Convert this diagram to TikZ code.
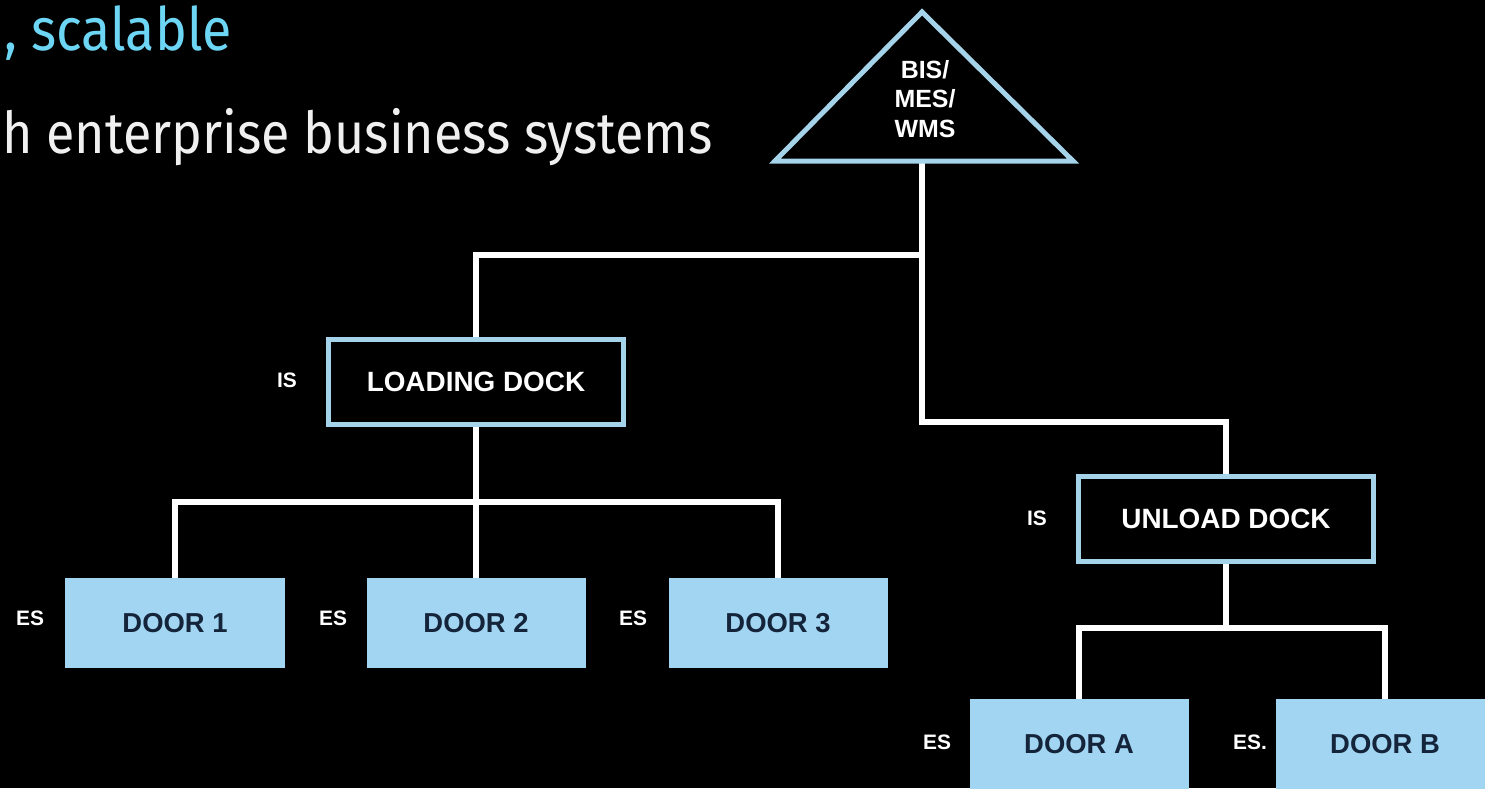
\documentclass[tikz,border=0pt]{standalone}
\usepackage{fontspec}
\setmainfont{Liberation Sans}
\newfontfamily\fira{Fira Sans}[FakeStretch=0.9]
\definecolor{boxline}{HTML}{A4D3EA}
\definecolor{doorfill}{HTML}{A2D5F2}
\definecolor{doortext}{HTML}{14243A}
\definecolor{titlecyan}{HTML}{6DD6F5}
\begin{document}
\begin{tikzpicture}[x=1bp,y=-1bp,
  conn/.style={draw=white,line width=6bp},
  isbox/.style={draw=boxline,line width=5bp,fill=black,minimum width=295bp,minimum height=85bp,inner sep=0pt,text=white,font=\bfseries\fontsize{28}{28}\selectfont},
  door/.style={fill=doorfill,minimum width=219bp,minimum height=90bp,inner sep=0pt,text=doortext,font=\bfseries\fontsize{27.5}{27.5}\selectfont},
  tag/.style={text=white,inner sep=0pt,font=\bfseries\fontsize{21}{21}\selectfont},
  title/.style={anchor=base west,inner sep=0pt}]
\fill[black] (0,0) rectangle (1485,788);
\useasboundingbox (0,0) rectangle (1485,788);
% title text
\node[title,text=titlecyan,font=\fira\fontsize{60}{60}\selectfont] (t1) at (4,51) {, scalable};
\node[title,text=white!94!black,font=\fira\fontsize{58}{58}\selectfont] (t2) at (2,153) {h enterprise business systems};
% nodes
\node[isbox] (ld) at (476,382) {LOADING DOCK};
\node[isbox] (ud) at (1226,518.5) {UNLOAD DOCK};
\node[door] (d1) at (175,623) {DOOR 1};
\node[door] (d2) at (476,623) {DOOR 2};
\node[door] (d3) at (778,623) {DOOR 3};
\node[door] (da) at (1079,744) {DOOR A};
\node[door] (db) at (1385,744) {DOOR B};
% triangle
\coordinate (apex) at (922,12);
\coordinate (tr) at (1073,161);
\coordinate (tl) at (775,161);
\coordinate (tb) at (922,161);
\coordinate (j1) at (922,255);
\coordinate (j2) at (922,422);
\coordinate (j3) at (476,502);
\coordinate (j4) at (1226,628);
% connectors
\draw[conn] (tb) -- (j2) -| (ud.north);
\draw[conn] (j1) -| (ld.north);
\draw[conn] (ld.south) -- (d2.north);
\draw[conn] (d1.north) |- (j3) -| (d3.north);
\draw[conn] (ud.south) -- (j4);
\draw[conn] (da.north) |- (j4) -| (db.north);
% redraw boxes on top
\node[isbox] at (ld) {LOADING DOCK};
\node[isbox] at (ud) {UNLOAD DOCK};
\filldraw[fill=black,draw=boxline,line width=5bp,line join=miter] (apex) -- (tr) -- (tl) -- cycle;
\node[text=white,align=center,inner sep=0pt,font=\bfseries\fontsize{25}{30}\selectfont] (bis) at (925,99) {BIS/\\MES/\\WMS};
% labels
\node[tag] (is1) at (287,380) {IS};
\node[tag] (is2) at (1037,518) {IS};
\node[tag] (es1) at (30,618) {ES};
\node[tag] (es2) at (333,618) {ES};
\node[tag] (es3) at (633,618) {ES};
\node[tag] (es4) at (937,742) {ES};
\node[tag] (es5) at (1250,742) {ES.};
\end{tikzpicture}
\end{document}
